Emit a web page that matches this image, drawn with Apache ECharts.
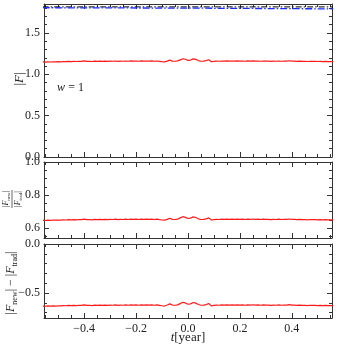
<!DOCTYPE html>
<html>
<head>
<meta charset="utf-8">
<script src="https://cdn.jsdelivr.net/npm/echarts@6/dist/echarts.min.js"></script>
<style>
  html, body { margin: 0; padding: 0; background: #fff; }
  #chart { width: 337px; height: 350px; }
</style>
</head>
<body>
<div id="chart"></div>
<script>
// time axis [year]
var tYear = [
  -0.56,-0.55,-0.54,-0.53,-0.52,-0.51,-0.50,-0.49,-0.48,-0.47,
  -0.46,-0.45,-0.44,-0.43,-0.42,-0.41,-0.40,-0.39,-0.38,-0.37,
  -0.36,-0.35,-0.34,-0.33,-0.32,-0.31,-0.30,-0.29,-0.28,-0.27,
  -0.26,-0.25,-0.24,-0.23,-0.22,-0.21,-0.20,-0.19,-0.18,-0.17,
  -0.16,-0.15,-0.14,-0.13,-0.12,-0.11,-0.10,-0.09,-0.08,-0.07,
  -0.06,-0.05,-0.04,-0.03,-0.02,-0.01,0.00,0.01,0.02,0.03,
  0.04,0.05,0.06,0.07,0.08,0.09,0.10,0.11,0.12,0.13,
  0.14,0.15,0.16,0.17,0.18,0.19,0.20,0.21,0.22,0.23,
  0.24,0.25,0.26,0.27,0.28,0.29,0.30,0.31,0.32,0.33,
  0.34,0.35,0.36,0.37,0.38,0.39,0.40,0.41,0.42,0.43,
  0.44,0.45,0.46,0.47,0.48,0.49,0.50,0.51,0.52,0.53,
  0.54,0.55,0.56
];
// |F| new (red)
var absFnew = [
  1.150,1.148,1.151,1.149,1.152,1.150,1.153,1.151,1.155,1.153,
  1.156,1.154,1.157,1.155,1.158,1.156,1.162,1.156,1.158,1.155,
  1.159,1.157,1.160,1.156,1.159,1.157,1.160,1.158,1.161,1.157,
  1.160,1.158,1.161,1.158,1.162,1.159,1.161,1.158,1.162,1.159,
  1.161,1.160,1.162,1.158,1.161,1.157,1.153,1.150,1.160,1.172,
  1.160,1.158,1.162,1.175,1.188,1.182,1.168,1.172,1.186,1.180,
  1.166,1.158,1.160,1.165,1.176,1.152,1.156,1.160,1.158,1.161,
  1.159,1.162,1.160,1.161,1.159,1.162,1.160,1.161,1.158,1.162,
  1.160,1.163,1.159,1.161,1.158,1.161,1.159,1.160,1.157,1.160,
  1.158,1.161,1.158,1.160,1.159,1.164,1.159,1.160,1.157,1.159,
  1.156,1.158,1.155,1.158,1.156,1.157,1.155,1.157,1.154,1.156,
  1.154,1.155,1.154
];
// |F_new| / |F_trad|
var ratioF = [
  0.648,0.646,0.648,0.647,0.649,0.648,0.649,0.648,0.650,0.649,
  0.651,0.650,0.651,0.650,0.652,0.651,0.654,0.651,0.652,0.650,
  0.653,0.651,0.653,0.651,0.653,0.651,0.653,0.652,0.654,0.651,
  0.653,0.652,0.654,0.652,0.654,0.653,0.654,0.652,0.654,0.653,
  0.654,0.653,0.654,0.652,0.654,0.651,0.649,0.648,0.653,0.660,
  0.653,0.652,0.654,0.662,0.669,0.665,0.658,0.660,0.668,0.664,
  0.656,0.652,0.653,0.656,0.662,0.649,0.651,0.653,0.652,0.654,
  0.653,0.654,0.653,0.654,0.653,0.654,0.653,0.654,0.652,0.654,
  0.653,0.655,0.653,0.654,0.652,0.654,0.653,0.653,0.651,0.653,
  0.652,0.654,0.652,0.653,0.653,0.655,0.653,0.653,0.651,0.653,
  0.651,0.652,0.650,0.652,0.651,0.651,0.650,0.651,0.650,0.651,
  0.650,0.650,0.650
];
// |F_new| - |F_trad|
var diffF = [
  -0.633,-0.635,-0.632,-0.634,-0.631,-0.633,-0.630,-0.632,-0.628,-0.630,
  -0.627,-0.629,-0.626,-0.628,-0.625,-0.627,-0.621,-0.627,-0.625,-0.628,
  -0.624,-0.626,-0.623,-0.627,-0.624,-0.626,-0.623,-0.625,-0.622,-0.626,
  -0.623,-0.625,-0.622,-0.625,-0.621,-0.624,-0.622,-0.625,-0.621,-0.624,
  -0.622,-0.623,-0.621,-0.625,-0.622,-0.626,-0.630,-0.633,-0.623,-0.611,
  -0.623,-0.625,-0.621,-0.608,-0.595,-0.601,-0.615,-0.611,-0.597,-0.603,
  -0.617,-0.625,-0.623,-0.618,-0.607,-0.631,-0.627,-0.623,-0.625,-0.622,
  -0.624,-0.621,-0.623,-0.622,-0.624,-0.621,-0.623,-0.622,-0.625,-0.621,
  -0.623,-0.620,-0.624,-0.622,-0.625,-0.622,-0.624,-0.623,-0.626,-0.623,
  -0.625,-0.622,-0.625,-0.623,-0.624,-0.619,-0.624,-0.623,-0.626,-0.624,
  -0.627,-0.625,-0.628,-0.625,-0.627,-0.626,-0.628,-0.626,-0.629,-0.627,
  -0.629,-0.628,-0.629
];
// |F| trad reference lines (top panel)
var tRef = [-0.56, 0.0, 0.56];
var tradBlue = [1.805, 1.800, 1.791];
var tradBlack = [1.815, 1.815, 1.815];

// ticks
var xMajor = [-0.4, -0.2, 0, 0.2, 0.4];
var xMinor = [-0.55,-0.5,-0.45,-0.35,-0.3,-0.25,-0.15,-0.1,-0.05,0.05,0.1,0.15,0.25,0.3,0.35,0.45,0.5,0.55];
var yMajor = [[0, 0.5, 1.0, 1.5], [0.6, 0.8, 1.0], [-0.5, 0]];
var yMinor = [
  [0.1,0.2,0.3,0.4,0.6,0.7,0.8,0.9,1.1,1.2,1.3,1.4,1.6,1.7,1.8],
  [0.55,0.65,0.7,0.75,0.85,0.9,0.95],
  [-0.7,-0.6,-0.4,-0.3,-0.2,-0.1]
];
var yRange = [[0, 1.85], [0.54, 1.0], [-0.755, 0]];
var xRange = [-0.555, 0.555];

var SERIF = 'Liberation Serif';
var FRAME = '#333';

function fmt(v) {
  var s = Math.abs(v).toFixed(1);
  return v < -1e-9 ? '\u2212' + s : s;
}

function axis(gi, pos, min, max, ticks, len, line, label) {
  return {
    type: 'value', gridIndex: gi, position: pos, min: min, max: max,
    axisLine: { show: line, onZero: false, lineStyle: { color: FRAME, width: 1 } },
    axisTick: { show: true, inside: true, length: len, customValues: ticks,
      lineStyle: { color: FRAME, width: 1 } },
    axisLabel: label ? { show: true, customValues: ticks, formatter: fmt, color: '#222',
      fontFamily: SERIF, fontSize: 12, margin: 4 } : { show: false },
    splitLine: { show: false }
  };
}

var grids = [
  { left: 44, top: 4, width: 288, height: 153 },
  { left: 44, top: 162, width: 288, height: 76 },
  { left: 44, top: 244, width: 288, height: 74 }
];
var xAxes = [], yAxes = [], xMain = [], yMain = [];
for (var g = 0; g < 3; g++) {
  xMain.push(xAxes.length);
  xAxes.push(axis(g, 'bottom', xRange[0], xRange[1], xMajor, 5, true, g === 2));
  xAxes.push(axis(g, 'bottom', xRange[0], xRange[1], xMinor, 3, false, false));
  xAxes.push(axis(g, 'top', xRange[0], xRange[1], xMajor, 5, true, false));
  xAxes.push(axis(g, 'top', xRange[0], xRange[1], xMinor, 3, false, false));
  yMain.push(yAxes.length);
  yAxes.push(axis(g, 'left', yRange[g][0], yRange[g][1], yMajor[g], 5, true, true));
  yAxes.push(axis(g, 'left', yRange[g][0], yRange[g][1], yMinor[g], 3, false, false));
  yAxes.push(axis(g, 'right', yRange[g][0], yRange[g][1], yMajor[g], 5, true, false));
  yAxes.push(axis(g, 'right', yRange[g][0], yRange[g][1], yMinor[g], 3, false, false));
}
xAxes[xMain[2]].axisLabel.margin = 5;

function zip(xs, ys) {
  return xs.map(function (x, i) { return [x, ys[i]]; });
}
function line(g, xs, ys, color, type, width) {
  return {
    type: 'line', xAxisIndex: xMain[g], yAxisIndex: yMain[g],
    data: zip(xs, ys), showSymbol: false, symbol: 'none', silent: true,
    lineStyle: { color: color, width: width, type: type }
  };
}

var rich = {
  i: { fontFamily: SERIF, fontStyle: 'italic', fontSize: 12, lineHeight: 16 },
  r: { fontFamily: SERIF, fontSize: 12, lineHeight: 16 },
  s: { fontFamily: SERIF, fontSize: 8, lineHeight: 10, verticalAlign: 'bottom' }
};
var richBig = {
  i: { fontFamily: SERIF, fontStyle: 'italic', fontSize: 13, lineHeight: 16 },
  r: { fontFamily: SERIF, fontSize: 13, lineHeight: 16 }
};
var richSmall = {
  i: { fontFamily: SERIF, fontStyle: 'italic', fontSize: 8, lineHeight: 10 },
  r: { fontFamily: SERIF, fontSize: 8, lineHeight: 10 },
  s: { fontFamily: SERIF, fontSize: 5, lineHeight: 7, verticalAlign: 'bottom' }
};

var option = {
  animation: false,
  backgroundColor: '#fff',
  grid: grids,
  xAxis: xAxes,
  yAxis: yAxes,
  series: [
    line(0, tRef, tradBlack, '#000', [6, 2, 1.5, 2], 1),
    line(0, tRef, tradBlue, '#1a2cff', [7, 2, 1.5, 2], 1.3),
    line(0, tYear, absFnew, '#ff1a1a', 'solid', 1.2),
    line(1, tYear, ratioF, '#ff1a1a', 'solid', 1.2),
    line(2, tYear, diffF, '#ff1a1a', 'solid', 1.2)
  ],
  graphic: [
    { type: 'text', x: 20, y: 79, rotation: Math.PI / 2,
      style: { text: '{r||}{i|F}{r||}', rich: richBig, align: 'center', verticalAlign: 'middle', fill: '#222' } },
    { type: 'text', x: 57, y: 88,
      style: { text: '{i|w} {r|= 1}', rich: rich, align: 'left', verticalAlign: 'middle', fill: '#222' } },
    { type: 'group', x: 12, y: 199, rotation: Math.PI / 2, children: [
      { type: 'text', x: 0, y: -1,
        style: { text: '{r||}{i|F}{s|new}{r||}', rich: richSmall, align: 'center', verticalAlign: 'bottom', fill: '#222' } },
      { type: 'line', shape: { x1: -9, y1: 0, x2: 9, y2: 0 }, style: { stroke: '#222', lineWidth: 0.7 } },
      { type: 'text', x: 0, y: 1,
        style: { text: '{r||}{i|F}{s|trad}{r||}', rich: richSmall, align: 'center', verticalAlign: 'top', fill: '#222' } }
    ] },
    { type: 'text', x: 11, y: 283, rotation: Math.PI / 2,
      style: { text: '{r||}{i|F}{s|new}{r|| \u2212 |}{i|F}{s|trad}{r||}', rich: rich, align: 'center', verticalAlign: 'middle', fill: '#222' } },
    { type: 'text', x: 188, y: 338,
      style: { text: '{i|t}{r|[year]}', rich: richBig, align: 'center', verticalAlign: 'middle', fill: '#222' } }
  ]
};

var myChart = echarts.init(document.getElementById('chart'));
myChart.setOption(option);
</script>
</body>
</html>
